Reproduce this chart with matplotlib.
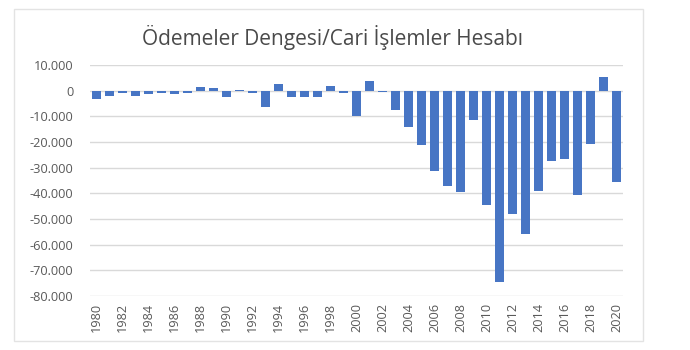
import matplotlib
matplotlib.use("Agg")
from matplotlib import pyplot as plt
from matplotlib.patches import Rectangle
from matplotlib.ticker import FuncFormatter

# cari islemler dengesi, milyon $
years = list(range(1980, 2021))
balance = [-3408, -1936, -952, -1923, -1439, -1013, -1465, -806, 1596, 938,
           -2625, 250, -974, -6433, 2631, -2338, -2437, -2638, 1984, -925,
           -9920, 3760, -626, -7515, -14198, -20980, -31168, -36949, -39425, -11358,
           -44616, -74402, -47963, -55834, -38914, -27314, -26804, -40584, -20745, 5303,
           -35529]
tick_years = years[::2]

grey = "#595959"
plt.rcParams["font.family"] = ["Open Sans", "DejaVu Sans"]

fig = plt.figure(figsize=(6.9, 3.5), dpi=100)
fig.patches.append(Rectangle((14 / 690, 1 - 341 / 350), 629 / 690, 332 / 350,
                             transform=fig.transFigure, fill=False,
                             edgecolor="#e3e3e3", linewidth=1))

ax = fig.add_axes([90 / 690, 1 - 296 / 350, 533 / 690, 231 / 350])
x = list(range(len(years)))
ax.bar(x, balance, width=0.66, color="#4775C4", zorder=3)

ax.set_xlim(-0.5, len(years) - 0.5)
ax.set_ylim(-80000, 10000)
ax.set_yticks(range(-80000, 10001, 10000))
ax.yaxis.set_major_formatter(FuncFormatter(lambda v, p: f"{int(v):,}".replace(",", ".")))
ax.set_xticks(x[::2])
ax.set_xticklabels([str(y) for y in tick_years], rotation=90)
ax.grid(axis="y", color="#d9d9d9", linewidth=1, zorder=0)
for s in ax.spines.values():
    s.set_visible(False)
ax.tick_params(length=0, colors=grey, labelsize=9.2)
ax.tick_params(axis="x", pad=5)
ax.tick_params(axis="y", pad=12)

fig.text(332 / 690, 1 - 37 / 350, "Ödemeler Dengesi/Cari İşlemler Hesabı",
         ha="center", va="center", fontsize=15, color="#4a4a4a")

fig.savefig("out.png", dpi=100)
